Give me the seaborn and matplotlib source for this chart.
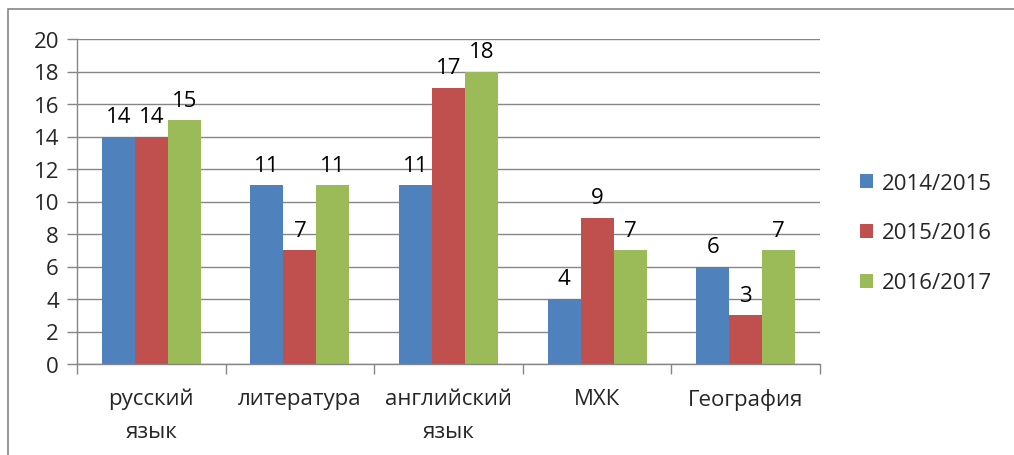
import pandas as pd
import seaborn as sns
import matplotlib
matplotlib.use("Agg")
import matplotlib.pyplot as plt
from matplotlib.patches import Rectangle

subjects = ["русский\nязык", "литература", "английский\nязык", "МХК", "География"]
years = ["2014/2015", "2015/2016", "2016/2017"]
v_2014 = [14, 11, 11, 4, 6]
v_2015 = [14, 7, 17, 9, 3]
v_2016 = [15, 11, 18, 7, 7]
y_ticks = list(range(0, 21, 2))

colors = ["#4F81BD", "#C0504D", "#9BBB59"]
grid_c = "#868686"
fs = 16

df = pd.DataFrame({
    "subject": subjects * 3,
    "year": [years[0]] * 5 + [years[1]] * 5 + [years[2]] * 5,
    "value": v_2014 + v_2015 + v_2016,
})

sns.set_theme(style="white")
plt.rcParams["font.family"] = ["Open Sans", "DejaVu Sans"]

fig = plt.figure(figsize=(10.14, 4.56), dpi=100)
ax = fig.add_axes([77 / 1014, 91 / 456, 743 / 1014, 325 / 456])

sns.barplot(data=df, x="subject", y="value", hue="year", order=subjects,
            hue_order=years, palette=colors, width=0.665, saturation=1,
            linewidth=0, ax=ax, legend=True)

for cont in ax.containers:
    ax.bar_label(cont, padding=7, fontsize=fs, color="black")

ax.set_xlim(-0.5, len(subjects) - 0.5)
ax.set_ylim(0, 20)
ax.set_yticks(y_ticks)
ax.yaxis.grid(True, color=grid_c, linewidth=1)
ax.set_axisbelow(True)
ax.set_xlabel("")
ax.set_ylabel("")
for s in ["top", "right"]:
    ax.spines[s].set_visible(False)
for s in ["left", "bottom"]:
    ax.spines[s].set_color(grid_c)
    ax.spines[s].set_linewidth(1)

ax.set_xticks(range(len(subjects)))
ax.set_xticklabels(subjects, fontsize=fs, linespacing=1.75)
ax.tick_params(axis="x", length=0, pad=17)
ax.tick_params(axis="y", length=7, color=grid_c, width=1, labelsize=fs, pad=6,
               direction="out", left=True)
# minor ticks at category boundaries
ax.set_xticks([i - 0.5 for i in range(len(subjects) + 1)], minor=True)
ax.tick_params(axis="x", which="minor", length=7, color=grid_c, width=1,
               direction="out", bottom=True)

leg = ax.legend(loc="center left", bbox_to_anchor=(860 / 1014, (456 - 234) / 456),
                bbox_transform=fig.transFigure, frameon=False, fontsize=fs,
                handlelength=0.6, handleheight=0.6, handletextpad=0.4,
                labelspacing=1.3, borderaxespad=0, borderpad=0)

fig.patches.append(Rectangle((8 / 1014, -0.1), 1.2, (446 / 456) + 0.1,
                             transform=fig.transFigure, fill=False,
                             edgecolor=grid_c, linewidth=1.2))

fig.savefig("out.png", dpi=100)
